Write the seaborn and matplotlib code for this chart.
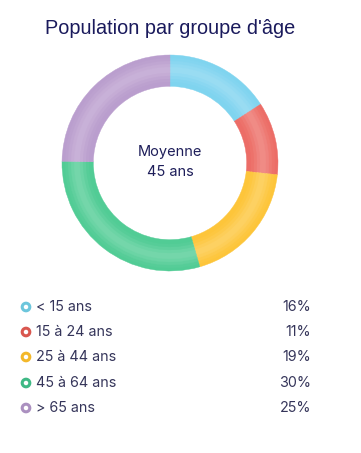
import numpy as np
import pandas as pd
import matplotlib
matplotlib.use("Agg")
import matplotlib.pyplot as plt
import seaborn as sns
from matplotlib.colors import to_rgb

categories = ["< 15 ans", "15 à 24 ans", "25 à 44 ans", "45 à 64 ans", "> 65 ans"]
values = [16, 11, 19, 30, 25]
labels_pct = ["16%", "11%", "19%", "30%", "25%"]
colors = ["#7dd3ef", "#ec6b64", "#fdc437", "#4ecb93", "#b99ccd"]
marker_colors = ["#6cc6dc", "#d9574f", "#f3b82a", "#3fb985", "#ab90c0"]

title = "Population par groupe d'âge"
center_text = "Moyenne\n45 ans"

sns.set_theme(style="white")
plt.rcParams["font.family"] = ["Inter", "DejaVu Sans"]

W, H = 361, 453
fig = plt.figure(figsize=(W / 100, H / 100), dpi=100)
fig.patch.set_facecolor("white")

# Donut axes
cx, cy, R = 170, 163, 108
ax = fig.add_axes([(cx - R) / W, (H - cy - R) / H, 2 * R / W, 2 * R / H])
r_in = 0.72
nb = 10
edges = np.linspace(1.0, r_in, nb + 1)
for i in range(nb):
    ro = edges[i]
    width = edges[i] - edges[i + 1]
    t = (i + 0.5) / nb
    light = 0.22 * np.exp(-((t - 0.5) / 0.28) ** 2)
    cols = [tuple(np.array(to_rgb(c)) * (1 - light) + light) for c in colors]
    ax.pie(values, radius=ro, colors=cols, startangle=90, counterclock=False,
           wedgeprops=dict(width=width + 0.01, linewidth=0.3, edgecolor=None))
    for w, c in zip(ax.patches[-len(values):], cols):
        w.set_edgecolor(c)
ax.set_xlim(-1, 1)
ax.set_ylim(-1, 1)
ax.set_aspect("equal")
ax.axis("off")
ax.text(0, 0.01, center_text, ha="center", va="center", fontsize=10.5,
        color="#1e1e5a", linespacing=1.5)

# Overlay axes in pixel coordinates
ax2 = fig.add_axes([0, 0, 1, 1])
ax2.set_xlim(0, W)
ax2.set_ylim(H, 0)
ax2.axis("off")
ax2.patch.set_alpha(0)

ax2.text(170, 28, title, ha="center", va="center", fontsize=14.3,
         color="#1a1a5c", family=["Liberation Sans", "DejaVu Sans"])

rows_y = [307, 332, 357, 383, 408]
df = pd.DataFrame({"x": [26] * 5, "y": rows_y, "cat": categories})
sns.scatterplot(data=df, x="x", y="y", hue="cat", palette=marker_colors,
                s=30, linewidth=2.2, legend=False, ax=ax2, marker="o")
coll = ax2.collections[-1]
coll.set_facecolor("white")
coll.set_edgecolor(marker_colors)
for y, lab, pct in zip(rows_y, categories, labels_pct):
    ax2.text(36, y, lab, ha="left", va="center", fontsize=10.3, color="#35355a")
    ax2.text(311, y, pct, ha="right", va="center", fontsize=10.3, color="#35355a")
ax2.set_xlim(0, W)
ax2.set_ylim(H, 0)

fig.savefig("out.png", dpi=100, facecolor="white")
